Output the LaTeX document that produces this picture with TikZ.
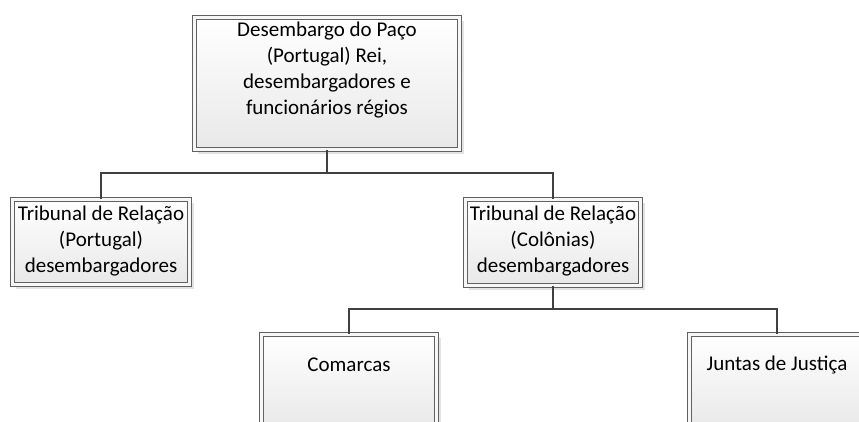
\documentclass[tikz,border=0pt]{standalone}
\usepackage{fontspec}
\setmainfont{Carlito}
\usetikzlibrary{shadows}

\tikzset{
  caixa/.style={draw=black!62, line width=0.8bp, double=black!3, double distance=3bp,
    shading=axis, top color=white, bottom color=black!9,
    drop shadow={shadow xshift=4bp, shadow yshift=-4bp, fill=black!11, opacity=1},
    inner sep=0pt, outer sep=0pt},
  rotulo/.style={align=center, inner sep=0pt, font=\fontsize{21bp}{26bp}\selectfont},
  conector/.style={draw=black!75, line width=2.9bp}
}

\begin{document}
\begin{tikzpicture}[x=1bp,y=-1bp]
  \clip (0,0) rectangle (859,421);
  \fill[white] (0,0) rectangle (859,421);
  % caixas
  \node[caixa, minimum width=265.4bp, minimum height=132.4bp] (paco) at (327,83.5) {};
  \node[caixa, minimum width=177.4bp, minimum height=85.4bp] (relpt) at (101,242) {};
  \node[caixa, minimum width=175.4bp, minimum height=86.4bp] (relcol) at (553,242.5) {};
  \node[caixa, minimum width=175.4bp, minimum height=95.4bp] (comarcas) at (349,382) {};
  \node[caixa, minimum width=175.4bp, minimum height=95.4bp] (juntas) at (777,382) {};
  % textos
  \node[rotulo] (paco-txt) at (327,70) {Desembargo do Paço\\(Portugal) Rei,\\desembargadores e\\funcionários régios};
  \node[rotulo] (relpt-txt) at (101,241) {Tribunal de Relação\\(Portugal)\\desembargadores};
  \node[rotulo] (relcol-txt) at (553,241) {Tribunal de Relação\\(Colônias)\\desembargadores};
  \node[rotulo] (comarcas-txt) at (349,365) {Comarcas};
  \node[rotulo] (juntas-txt) at (777,365) {Juntas de Justiça};
  % ligacoes
  \coordinate (j1) at (327,173);
  \coordinate (j2) at (553,309);
  \draw[conector] (paco.south) -- (j1) -| (relpt.north);
  \draw[conector] (j1) -| (relcol.north);
  \draw[conector] (relcol.south) -- (j2) -| (comarcas.north);
  \draw[conector] (j2) -| (juntas.north);
\end{tikzpicture}
\end{document}
